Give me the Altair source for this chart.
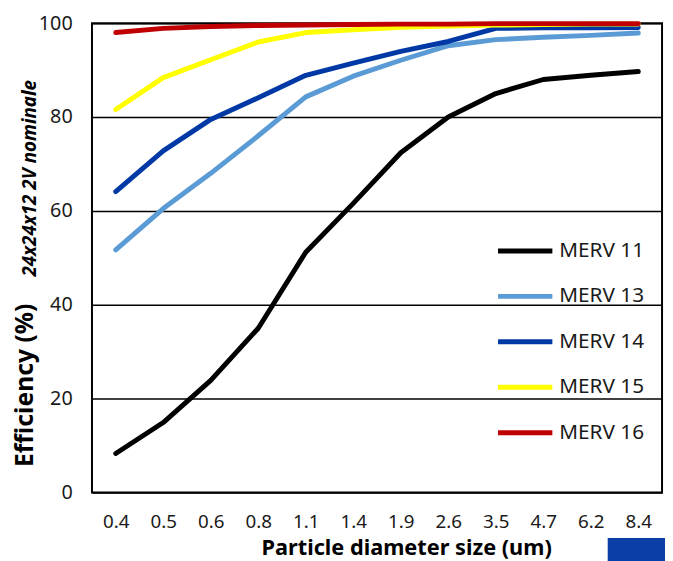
import altair as alt
import pandas as pd

sizes = ["0.4", "0.5", "0.6", "0.8", "1.1", "1.4", "1.9", "2.6", "3.5", "4.7", "6.2", "8.4"]
series_names = ["MERV 11", "MERV 13", "MERV 14", "MERV 15", "MERV 16"]
series_colors = ["#000000", "#5b9bd5", "#0039a6", "#ffff00", "#c00000"]

merv11 = [8.3, 14.9, 23.9, 35.0, 51.2, 61.6, 72.4, 80.0, 85.0, 88.0, 88.9, 89.7]
merv13 = [51.7, 60.5, 68.0, 76.0, 84.3, 88.7, 92.1, 95.2, 96.5, 97.0, 97.4, 97.9]
merv14 = [64.1, 72.8, 79.5, 84.1, 88.9, 91.5, 94.0, 96.1, 98.9, 99.0, 99.0, 99.1]
merv15 = [81.6, 88.4, 92.2, 96.0, 98.0, 98.6, 99.1, 99.4, 99.6, 99.7, 99.8, 99.8]
merv16 = [98.0, 98.9, 99.3, 99.5, 99.6, 99.7, 99.8, 99.8, 99.9, 99.9, 99.9, 99.9]

y_title = "Efficiency (%)"
x_title = "Particle diameter size (um)"
side_note = "24x24x12 2V nominale"

values = [merv11, merv13, merv14, merv15, merv16]
rows = []
for order, (name, vals) in enumerate(zip(series_names, values)):
    for s, v in zip(sizes, vals):
        rows.append({"size": s, "eff": v, "series": name, "o": order})
df = pd.DataFrame(rows)

FONT = "Noto Sans"

lines = alt.Chart(df).mark_line(strokeWidth=5, strokeCap="round", strokeJoin="round").encode(
    x=alt.X("size:N", sort=sizes, scale=alt.Scale(type="point", padding=0.5),
            axis=alt.Axis(title=x_title, labelAngle=0, ticks=False, domain=False, labelPadding=20,
                          labelFontSize=19, labelColor="#1a1a1a", titleFontSize=22, titleFontWeight="bold",
                          titleColor="#000000", titleX=318, titleY=63, titleBaseline="alphabetic",
                          titleAlign="center", grid=False)),
    y=alt.Y("eff:Q", scale=alt.Scale(domain=[0, 100]),
            axis=alt.Axis(values=[0, 20, 40, 60, 80, 100], gridColor="#000000", gridWidth=1.5,
                          gridOpacity=1, ticks=False, domain=False, labelPadding=20, labelFontSize=20,
                          labelColor="#1a1a1a", title=y_title, titleFontSize=25, titleFontWeight="bold",
                          titleColor="#000000", titleX=-60, titleY=366, titleBaseline="alphabetic",
                          titleAlign="center", titleAngle=270)),
    color=alt.Color("series:N", scale=alt.Scale(domain=series_names, range=series_colors),
                    legend=alt.Legend(title=None, orient="none", legendX=422, legendY=214,
                                      symbolType="M-2,0H2", symbolSize=756, symbolStrokeWidth=5,
                                      labelFontSize=21, labelOffset=18, rowPadding=19, padding=0,
                                      labelColor="#1a1a1a")),
    order=alt.Order("o:Q"),
    detail="series:N",
)

note = alt.Chart(pd.DataFrame({"t": [side_note]})).mark_text(
    angle=270, fontSize=19, fontWeight="bold", fontStyle="italic", align="center", baseline="alphabetic",
    color="#000000", font=FONT
).encode(text="t:N", x=alt.value(-57), y=alt.value(157))

badge = alt.Chart(pd.DataFrame({"k": [1]})).mark_rect(color="#0a3fa5").encode(
    x=alt.value(522), x2=alt.value(582), y=alt.value(521), y2=alt.value(545)
)

chart = alt.layer(lines, note, badge).properties(
    width=577, height=475,
    autosize=alt.AutoSizeParams(type="none"),
    padding={"left": 85, "top": 12, "right": 3, "bottom": 66},
).configure(font=FONT).configure_view(stroke="#000000", strokeWidth=2)

chart.save("out.html", embed_options={"renderer": "svg", "actions": False})
